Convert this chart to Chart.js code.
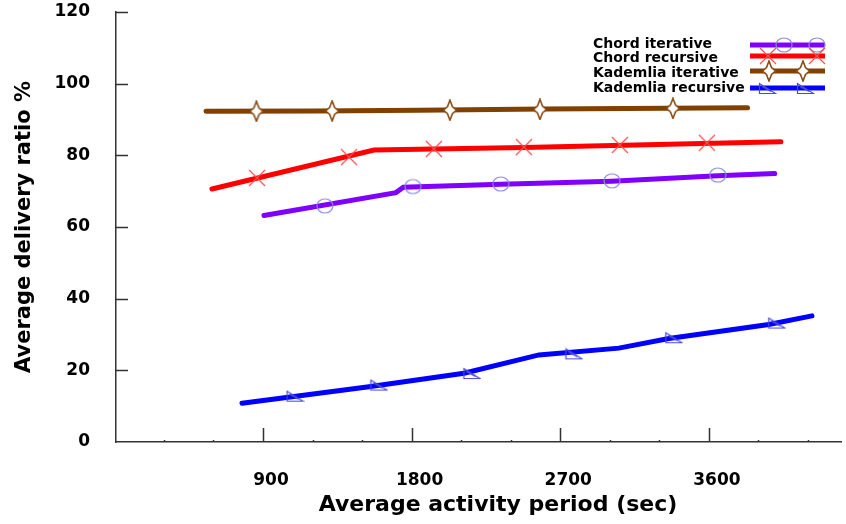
<!DOCTYPE html>
<html>
<head>
<meta charset="utf-8">
<script src="https://cdn.jsdelivr.net/npm/chart.js@4.4.0/dist/chart.umd.min.js"></script>
<style>
  body { margin: 0; background: #fff; }
  #wrap { width: 846px; height: 524px; }
</style>
</head>
<body>
<div id="wrap"><canvas id="chart" width="846" height="524"></canvas></div>
<script>
// --- Data ---
const seriesNames = ['Chord iterative', 'Chord recursive', 'Kademlia iterative', 'Kademlia recursive'];

const chordIterX = [906, 1705, 1750, 2340, 3013, 3654, 3999];
const chordIterY = [63.2, 69.6, 71.1, 71.9, 72.8, 74.3, 74.9];
const chordIterMarkX = [1275, 1808, 2340, 3013, 3654];
const chordIterMarkY = [65.9, 71.3, 72.0, 72.9, 74.5];

const chordRecX = [591, 1572, 2480, 4036];
const chordRecY = [70.6, 81.5, 82.2, 83.8];
const chordRecMarkX = [864, 1421, 1935, 2480, 3061, 3588];
const chordRecMarkY = [73.7, 79.5, 81.8, 82.3, 82.9, 83.5];

const kadIterX = [555, 1220, 1840, 2600, 3834];
const kadIterY = [92.3, 92.4, 92.6, 92.9, 93.3];
const kadIterMarkX = [860, 1319, 2032, 2577, 3382];
const kadIterMarkY = [92.3, 92.4, 92.6, 92.8, 93.1];

const kadRecX = [773, 1542, 2117, 2571, 3055, 3358, 3963, 4224];
const kadRecY = [10.8, 15.4, 19.2, 24.3, 26.2, 28.9, 32.8, 35.2];
const kadRecMarkX = [1094, 1602, 2165, 2783, 3388, 4011];
const kadRecMarkY = [12.8, 15.9, 19.1, 24.6, 29.1, 33.2];

const xMajorTicks = [900, 1800, 2700, 3600];
const xMinorTicks = [300, 600, 1200, 1500, 2100, 2400, 3000, 3300, 3900, 4200];
const yTicks = [0, 20, 40, 60, 80, 100, 120];

const xTitle = 'Average activity period (sec)';
const yTitle = 'Average delivery ratio %';

// --- Marker images (gnuplot-like point shapes) ---
function makeMarker(kind, color) {
    const c = document.createElement('canvas');
    let w = 18, h = 18;
    if (kind === 'star') { w = 16; h = 22; }
    if (kind === 'tri') { w = 19; h = 13; }
    c.width = w; c.height = h;
    const g = c.getContext('2d');
    const cx = w / 2, cy = h / 2;
    g.strokeStyle = color;
    g.lineWidth = 1.2;
    g.beginPath();
    if (kind === 'circle') {
        g.ellipse(cx, cy, 8, 7, 0, 0, Math.PI * 2);
        g.stroke();
    } else if (kind === 'cross') {
        g.moveTo(cx - 8, cy - 8); g.lineTo(cx + 8, cy + 8);
        g.moveTo(cx + 8, cy - 8); g.lineTo(cx - 8, cy + 8);
        g.stroke();
    } else if (kind === 'star') {
        g.moveTo(cx, cy - 10);
        g.lineTo(cx + 2.5, cy - 3.5);
        g.lineTo(cx + 6.5, cy);
        g.lineTo(cx + 2.5, cy + 3.5);
        g.lineTo(cx, cy + 10);
        g.lineTo(cx - 2.5, cy + 3.5);
        g.lineTo(cx - 6.5, cy);
        g.lineTo(cx - 2.5, cy - 3.5);
        g.closePath();
        g.fillStyle = '#fff';
        g.fill();
        g.lineWidth = 1.6;
        g.stroke();
    } else if (kind === 'tri') {
        g.moveTo(1.5, 1.5);
        g.lineTo(1.5, h - 1.5);
        g.lineTo(w - 1.5, h - 1.5);
        g.closePath();
        g.moveTo(4, 4.5);
        g.lineTo(w - 6, h - 3.5);
        g.lineWidth = 1.2;
        g.stroke();
    }
    return c;
}

const lineColors = ['#7f00ff', '#ff0000', '#804000', '#0000ff'];
const markers = [
    makeMarker('circle', '#8c8ce0'),
    makeMarker('cross', '#ff5050'),
    makeMarker('star', '#8a4a12'),
    makeMarker('tri', '#4a4ad8')
];

const lineXs = [chordIterX, chordRecX, kadIterX, kadRecX];
const lineYs = [chordIterY, chordRecY, kadIterY, kadRecY];
const markXs = [chordIterMarkX, chordRecMarkX, kadIterMarkX, kadRecMarkX];
const markYs = [chordIterMarkY, chordRecMarkY, kadIterMarkY, kadRecMarkY];

const datasets = [];
seriesNames.forEach((name, i) => {
    datasets.push({
        label: name,
        data: lineXs[i].map((x, k) => ({ x: x, y: lineYs[i][k] })),
        borderColor: lineColors[i],
        borderWidth: 5,
        borderCapStyle: 'round',
        pointRadius: 0,
        showLine: true,
        fill: false,
        tension: 0,
        order: 2
    });
    datasets.push({
        label: name + ' points',
        data: markXs[i].map((x, k) => ({ x: x, y: markYs[i][k] })),
        pointStyle: markers[i],
        showLine: false,
        order: 1
    });
});

// --- Inward ticks, x title and the gnuplot style key ---
const decorations = {
    id: 'decorations',
    afterDraw(chart) {
        const ctx = chart.ctx;
        const xs = chart.scales.x, ys = chart.scales.y;
        const bottom = ys.bottom, left = xs.left;
        ctx.save();
        ctx.strokeStyle = '#333';
        ctx.lineWidth = 1.5;
        ctx.beginPath();
        xMajorTicks.forEach(v => {
            const px = Math.round(xs.getPixelForValue(v)) + 0.5;
            ctx.moveTo(px, bottom); ctx.lineTo(px, bottom - 14);
        });
        xMinorTicks.forEach(v => {
            const px = Math.round(xs.getPixelForValue(v)) + 0.5;
            ctx.moveTo(px, bottom); ctx.lineTo(px, bottom - 2);
        });
        yTicks.forEach(v => {
            if (v === 0) return;
            const py = Math.round(ys.getPixelForValue(v)) + 0.5;
            ctx.moveTo(left, py); ctx.lineTo(left + 12, py);
        });
        ctx.stroke();

        // x axis title
        ctx.fillStyle = '#000';
        ctx.font = 'bold 22px "DejaVu Sans"';
        ctx.textAlign = 'center';
        ctx.textBaseline = 'middle';
        ctx.fillText(xTitle, 498, 505);

        // key
        const textY = [44, 58, 73, 88];
        const lineY = [45, 56, 71, 88];
        const markAt = [[784, 817], [768, 817], [769, 803], [767, 805]];
        ctx.font = 'bold 14px "DejaVu Sans"';
        ctx.textAlign = 'left';
        seriesNames.forEach((name, i) => {
            ctx.fillStyle = '#000';
            ctx.fillText(name, 593, textY[i]);
            ctx.strokeStyle = lineColors[i];
            ctx.lineWidth = 5;
            ctx.beginPath();
            ctx.moveTo(750, lineY[i]);
            ctx.lineTo(825, lineY[i]);
            ctx.stroke();
            markAt[i].forEach(mx => {
                const m = markers[i];
                ctx.drawImage(m, Math.round(mx - m.width / 2), Math.round(lineY[i] - m.height / 2));
            });
        });
        ctx.restore();
    }
};

const ctx = document.getElementById('chart').getContext('2d');
const myChart = new Chart(ctx, {
    type: 'scatter',
    data: { datasets: datasets },
    options: {
        responsive: false,
        animation: false,
        devicePixelRatio: 1,
        layout: { padding: { top: 12, right: 3, left: 0, bottom: 0 } },
        plugins: {
            legend: { display: false },
            tooltip: { enabled: false }
        },
        scales: {
            x: {
                type: 'linear',
                min: 10,
                max: 4400,
                afterBuildTicks: s => { s.ticks = xMajorTicks.map(v => ({ value: v })); },
                afterFit: s => { s.height = 82; s.paddingLeft = 0; s.paddingRight = 0; },
                grid: { display: false },
                border: { display: true, color: '#333', width: 1.5 },
                ticks: {
                    color: '#000',
                    font: { family: 'DejaVu Sans', size: 17, weight: 'bold' },
                    padding: 20,
                    labelOffset: 8,
                    maxRotation: 0,
                    autoSkip: false,
                    callback: v => String(v)
                }
            },
            y: {
                min: 0,
                max: 120,
                afterBuildTicks: s => { s.ticks = yTicks.map(v => ({ value: v })); },
                afterFit: s => { s.width = 116; s.paddingTop = 0; s.paddingBottom = 0; },
                grid: { display: false },
                border: { display: true, color: '#333', width: 1.5 },
                ticks: {
                    color: '#000',
                    font: { family: 'DejaVu Sans', size: 17, weight: 'bold' },
                    padding: 18,
                    labelOffset: 0,
                    callback: v => String(v)
                },
                title: {
                    display: true,
                    text: yTitle,
                    color: '#000',
                    font: { family: 'DejaVu Sans', size: 21, weight: 'bold' },
                    padding: { top: 12, bottom: 0 }
                }
            }
        }
    },
    plugins: [decorations]
});
</script>
</body>
</html>
